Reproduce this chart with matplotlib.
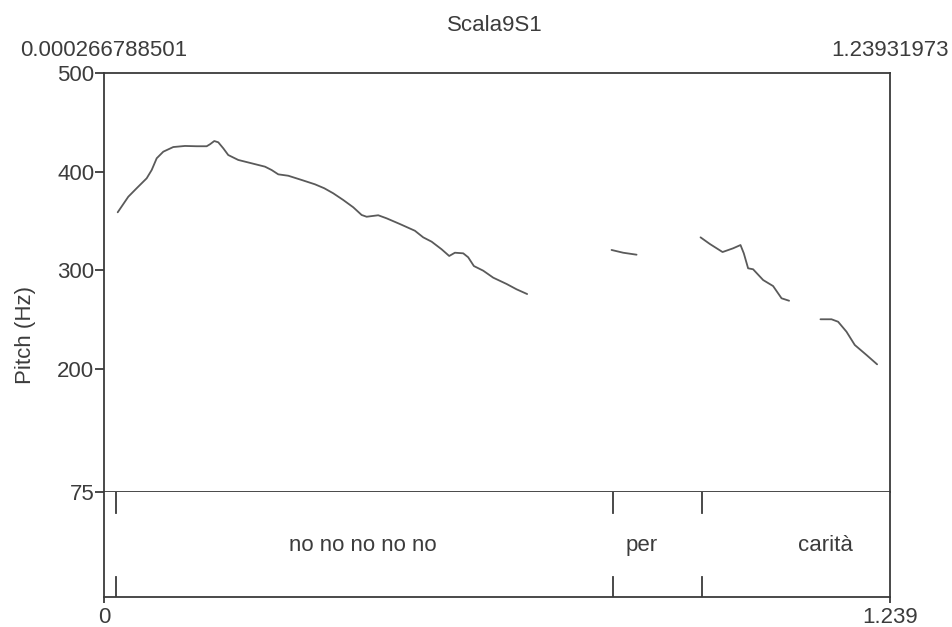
import matplotlib
matplotlib.use("Agg")
import matplotlib.pyplot as plt

plt.rcParams['font.family'] = ['Liberation Sans', 'DejaVu Sans']

# ---- data ----
title = "Scala9S1"
t_start, t_end = 0.000266788501, 1.23931973
start_label, end_label = "0.000266788501", "1.23931973"
y_ticks = [75, 200, 300, 400, 500]
y_min, y_max = 75, 500

seg1_t = [0.0216, 0.0383, 0.0515, 0.0673, 0.0752, 0.0831, 0.0935, 0.1092, 0.1277,
          0.1461, 0.1619, 0.1671, 0.1739, 0.1802, 0.1881, 0.1959, 0.2117, 0.2328,
          0.2538, 0.2643, 0.2748, 0.2905, 0.3116, 0.3326, 0.3473, 0.3614, 0.3772,
          0.3930, 0.4062, 0.4141, 0.4324, 0.4456, 0.4666, 0.4902, 0.5033, 0.5166,
          0.5323, 0.5443, 0.5533, 0.5664, 0.5742, 0.5832, 0.5979, 0.6137, 0.6348,
          0.6505, 0.6672]
seg1_f = [358.7, 374.5, 383.1, 393.2, 401.6, 413.5, 420.2, 424.9, 426.0,
          425.7, 425.7, 427.7, 431.0, 429.7, 423.6, 416.8, 411.8, 408.4,
          405.0, 401.6, 397.2, 395.8, 391.5, 387.1, 383.1, 378.0, 371.2,
          363.8, 356.0, 354.2, 355.7, 352.6, 346.8, 340.0, 333.3, 328.9,
          321.2, 314.4, 317.7, 317.1, 313.1, 304.2, 299.5, 292.4, 286.0,
          280.6, 275.8]
seg2_t = [0.8003, 0.8186, 0.8397]
seg2_f = [320.5, 317.7, 315.7]
seg3_t = [0.9406, 0.9552, 0.9753, 0.9920, 1.0036, 1.0088, 1.0156, 1.0235, 1.0393,
          1.0550, 1.0683, 1.0802]
seg3_f = [333.3, 326.6, 318.4, 322.2, 325.5, 317.1, 301.9, 300.9, 290.0,
          283.9, 271.5, 269.0]
seg4_t = [1.1297, 1.1471, 1.1575, 1.1707, 1.1838, 1.2022, 1.2190]
seg4_f = [250.2, 250.2, 247.7, 237.6, 224.1, 214.0, 204.5]

boundaries = [0.0189, 0.802, 0.943]
word_labels = ["no no no no no", "per", "carità"]
word_pos = [0.4075, 0.848, 1.138]
bottom_ticks = [0, 1.239]
bottom_tick_labels = ["0", "1.239"]

# ---- style ----
FS = 16
TXT = '#3c3c3c'
LINE = '#3a3a3a'
CURVE = '#5a5a5a'
LW = 1.3

fig = plt.figure(figsize=(9.52, 6.27), dpi=100)
W, H = 952, 627
x0, x1 = 104, 890
ax = fig.add_axes([x0 / W, 1 - 492 / H, (x1 - x0) / W, (492 - 73) / H])
tx = fig.add_axes([x0 / W, 1 - 597 / H, (x1 - x0) / W, (597 - 492) / H])

for a in (ax, tx):
    a.set_xlim(0, t_end)
    for s in a.spines.values():
        s.set_color(LINE)
        s.set_linewidth(LW)

# pitch panel
for ts, fs in ((seg1_t, seg1_f), (seg2_t, seg2_f), (seg3_t, seg3_f), (seg4_t, seg4_f)):
    ax.plot(ts, fs, color=CURVE, lw=1.3, solid_capstyle='round')
ax.set_ylim(y_min, y_max)
ax.set_yticks(y_ticks)
ax.set_yticklabels([str(v) for v in y_ticks], fontsize=FS, color=TXT)
ax.tick_params(axis='y', length=6.5, width=LW, color=LINE, pad=0.5)
ax.set_xticks([])

ax.annotate(start_label, xy=(0, 1), xycoords=('data', 'axes fraction'),
            xytext=(0, 16), textcoords='offset points', ha='center', va='center',
            fontsize=FS, color=TXT)
ax.annotate(end_label, xy=(t_end, 1), xycoords=('data', 'axes fraction'),
            xytext=(0, 16), textcoords='offset points', ha='center', va='center',
            fontsize=FS, color=TXT)
ax.annotate(title, xy=(0.5, 1), xycoords='axes fraction',
            xytext=(-1.5, 34.5), textcoords='offset points', ha='center', va='center',
            fontsize=FS, color=TXT)

fig.text(25 / W, 1 - 335 / H, "Pitch (Hz)", rotation=90, ha='center', va='center',
         fontsize=FS, color=TXT)

# tier panel
tx.set_ylim(0, 1)
tx.set_yticks([])
tx.spines['top'].set_visible(False)
tx.set_xticks(bottom_ticks)
tx.set_xticklabels(bottom_tick_labels, fontsize=FS, color=TXT)
tx.tick_params(axis='x', length=4.5, width=LW, color=LINE, pad=3)
for b in boundaries:
    tx.axvline(b, ymin=0.0, ymax=0.19, color=LINE, lw=LW)
    tx.axvline(b, ymin=0.80, ymax=1.0, color=LINE, lw=LW)
for lab, p in zip(word_labels, word_pos):
    tx.text(p, 0.49, lab, ha='center', va='center', fontsize=FS, color=TXT)

fig.savefig("out.png", dpi=100)
